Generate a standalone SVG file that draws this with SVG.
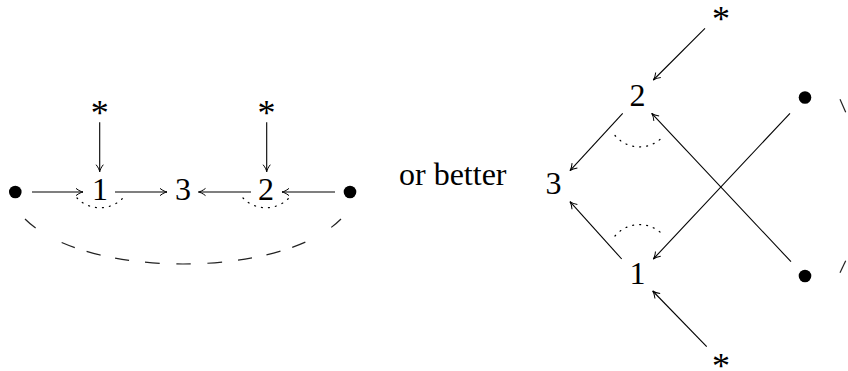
<svg xmlns="http://www.w3.org/2000/svg" width="848" height="371" viewBox="0 0 848 371">
<style>
text{font-family:"Liberation Serif","Times New Roman",serif;font-size:32px;fill:#000;text-anchor:middle}
.lbl{text-anchor:start}
.star{font-size:36px}
.ar{stroke:#000;stroke-width:1.1;fill:none;marker-end:url(#tip)}
.dot{stroke:#000;stroke-width:1.2;fill:none;stroke-dasharray:1 6;stroke-linecap:round}
.dash{stroke:#222;stroke-width:1.2;fill:none}
.bul{fill:#000}
</style>
<defs>
<marker id="tip" viewBox="-8 -5 10 10" markerWidth="10" markerHeight="10" refX="0" refY="0" orient="auto" markerUnits="userSpaceOnUse">
<path d="M-7,-3.6 C-4,-1.2 -1.5,-0.3 0,0 C-1.5,0.3 -4,1.2 -7,3.6" stroke="#000" stroke-width="1" fill="none"/>
</marker>
</defs>
<g id="left-diagram">
<g id="L-bulletL"><circle class="bul" cx="15.3" cy="192" r="6.3"/></g>
<g id="L-n1"><text x="100" y="200">1</text></g>
<g id="L-n3"><text x="183" y="200">3</text></g>
<g id="L-n2"><text x="266" y="200">2</text></g>
<g id="L-bulletR"><circle class="bul" cx="350" cy="192" r="6.3"/></g>
<g id="L-star1"><text class="star" x="99.7" y="125">*</text></g>
<g id="L-star2"><text class="star" x="266.5" y="125">*</text></g>
</g>
<g id="label-or-better"><text class="lbl" x="399" y="185">or better</text></g>
<g id="right-diagram">
<g id="R-n2"><text x="637.5" y="106">2</text></g>
<g id="R-n3"><text x="553.5" y="193.5">3</text></g>
<g id="R-n1"><text x="637.5" y="284">1</text></g>
<g id="R-starTop"><text class="star" x="721" y="30.5">*</text></g>
<g id="R-starBot"><text class="star" x="721" y="377.5">*</text></g>
<g id="R-bulletTop"><circle class="bul" cx="805" cy="97.5" r="6.3"/></g>
<g id="R-bulletBot"><circle class="bul" cx="805" cy="276" r="6.3"/></g>
</g>
<g id="connectors">
<path class="ar" d="M32,192 L83,192"/>
<path class="ar" d="M115,192 L167,192"/>
<path class="ar" d="M251,192 L198.5,192"/>
<path class="ar" d="M335,192 L282,192"/>
<path class="ar" d="M99.7,122.3 L99.7,171.7"/>
<path class="ar" d="M266.7,122.3 L266.7,171.7"/>
<path class="dot" d="M77,198 A32,32 0 0 0 123,198"/>
<path class="dot" d="M243,198 A32,32 0 0 0 289,198"/>
<path class="dash" stroke-dasharray="14 30 14 12.4 14.5 14.7 14.2 16 14.7 16.7 14.3 16.7 14.7 16 14.2 14.7 14.5 12.4 14 30 14 1000" d="M25,219 C85,279 281,279 341,219"/>
<path class="ar" d="M705,28.3 L653.3,80"/>
<path class="ar" d="M622.7,113.3 L570,170.7"/>
<path class="ar" d="M791,261.7 L651.7,113.3"/>
<path class="ar" d="M790,113.3 L653.3,259"/>
<path class="ar" d="M621.7,259 L570,201.7"/>
<path class="ar" d="M706.7,346.7 L652.7,291"/>
<path class="dot" d="M615,135.5 A32,32 0 0 0 664,135.5"/>
<path class="dot" d="M615,236 A32,32 0 0 1 664,236"/>
<path class="dash" d="M840,99.3 L845.7,112.3"/>
<path class="dash" d="M840,272.7 L845.7,260.7"/>
</g>
</svg>
